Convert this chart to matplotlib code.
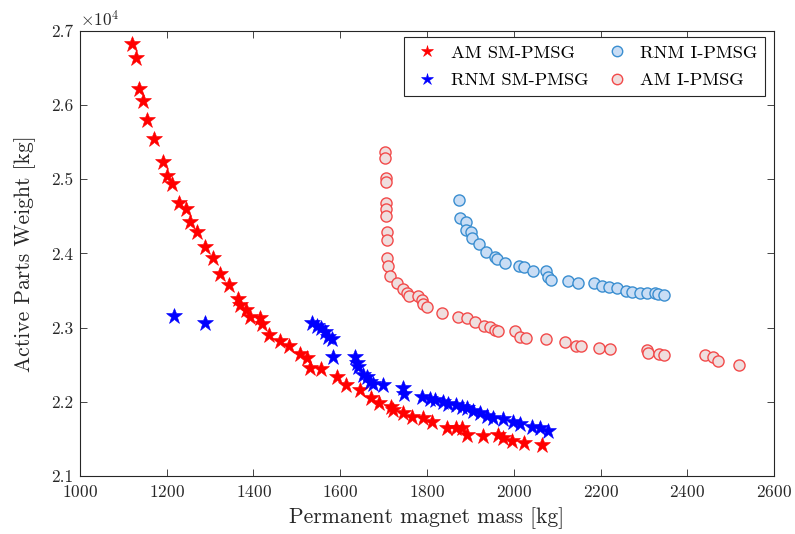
import matplotlib
matplotlib.use("Agg")
import matplotlib.pyplot as plt
import numpy as np

plt.rcParams['font.family'] = 'cmr10'
plt.rcParams['mathtext.fontset'] = 'cm'
plt.rcParams['axes.formatter.use_mathtext'] = True

# AM SM-PMSG (red stars)
am_sm_x = [1121, 1129, 1137, 1146, 1154, 1171, 1191, 1201, 1211, 1228, 1244, 1254, 1270, 1288,
           1307, 1323, 1344, 1364, 1369, 1383, 1392, 1415, 1420, 1435, 1461, 1483, 1507, 1524,
           1531, 1555, 1593, 1613, 1646, 1671, 1690, 1717, 1722, 1744, 1766, 1790, 1811, 1845,
           1867, 1880, 1893, 1930, 1964, 1976, 1997, 2024, 2064]
am_sm_y = [26817, 26636, 26210, 26049, 25797, 25541, 25227, 25038, 24930, 24683, 24594, 24423,
           24288, 24086, 23937, 23722, 23578, 23385, 23304, 23237, 23147, 23133, 23052, 22900,
           22823, 22756, 22644, 22590, 22455, 22438, 22338, 22222, 22159, 22047, 21985, 21934,
           21889, 21853, 21799, 21777, 21732, 21643, 21643, 21643, 21552, 21539, 21552, 21508,
           21476, 21449, 21418]

# RNM SM-PMSG (blue stars)
rnm_sm_x = [1217, 1288, 1534, 1546, 1555, 1565, 1572, 1580, 1584, 1634, 1638, 1642, 1652, 1661,
            1669, 1676, 1698, 1745, 1747, 1789, 1807, 1818, 1837, 1849, 1868, 1880, 1893, 1907,
            1922, 1938, 1953, 1976, 1999, 2014, 2041, 2061, 2080]
rnm_sm_y = [23156, 23057, 23057, 23021, 22990, 22944, 22877, 22846, 22607, 22607, 22527, 22465,
            22361, 22330, 22271, 22240, 22222, 22182, 22105, 22069, 22042, 22024, 22001, 21970,
            21957, 21934, 21912, 21880, 21845, 21808, 21777, 21772, 21732, 21701, 21664, 21643,
            21610]

# RNM I-PMSG (blue circles)
rnm_i_x = [1874, 1876, 1889, 1889, 1901, 1903, 1920, 1937, 1957, 1962, 1980, 2013, 2024, 2045,
           2074, 2080, 2087, 2126, 2147, 2185, 2203, 2220, 2237, 2259, 2273, 2291, 2308, 2326,
           2333, 2346]
rnm_i_y = [24719, 24480, 24418, 24315, 24292, 24211, 24122, 24014, 23955, 23920, 23866, 23833,
           23810, 23766, 23760, 23678, 23641, 23628, 23605, 23596, 23564, 23542, 23529, 23497,
           23475, 23470, 23470, 23462, 23453, 23439]

# AM I-PMSG (red circles)
am_i_x = [1703, 1703, 1705, 1705, 1705, 1705, 1705, 1707, 1708, 1708, 1711, 1715, 1732, 1745,
          1753, 1759, 1780, 1788, 1790, 1801, 1835, 1871, 1892, 1911, 1932, 1945, 1957, 1963,
          2003, 2014, 2028, 2074, 2117, 2144, 2154, 2197, 2223, 2308, 2309, 2336, 2346, 2441,
          2459, 2472, 2519]
am_i_y = [25370, 25281, 25011, 24957, 24682, 24597, 24503, 24284, 24180, 23941, 23834, 23699,
          23597, 23516, 23462, 23425, 23430, 23372, 23318, 23281, 23200, 23146, 23125, 23080,
          23021, 23012, 22967, 22958, 22950, 22877, 22855, 22842, 22810, 22752, 22752, 22725,
          22711, 22698, 22661, 22644, 22626, 22630, 22607, 22554, 22496]

fig = plt.figure(figsize=(7.95, 5.34), dpi=100)
ax = fig.add_axes([0.1006, 0.1086, 0.8730, 0.8339])

ax.plot(am_sm_x, am_sm_y, '*', color='#ff0000', markersize=12, markeredgewidth=0.4,
        label='AM SM-PMSG', linestyle='none')
ax.plot(rnm_sm_x, rnm_sm_y, '*', color='#0000ff', markersize=12, markeredgewidth=0.4,
        label='RNM SM-PMSG', linestyle='none')
ax.plot(rnm_i_x, rnm_i_y, 'o', markerfacecolor='#c9ddf5', markeredgecolor='#3a8ed0',
        markersize=8, markeredgewidth=1.0, label='RNM I-PMSG', linestyle='none')
ax.plot(am_i_x, am_i_y, 'o', markerfacecolor='#efdede', markeredgecolor='#f24a4a',
        markersize=8, markeredgewidth=1.0, label='AM I-PMSG', linestyle='none')

ax.set_xlim(1000, 2600)
ax.set_ylim(21000, 27000)
ax.set_xticks(np.arange(1000, 2601, 200))
ax.set_yticks(np.arange(21000, 27001, 1000))
ax.set_yticklabels(['2.1', '2.2', '2.3', '2.4', '2.5', '2.6', '2.7'])
ax.tick_params(direction='in', top=True, right=True, labelsize=12.5, length=5,
               width=0.6, color='#262626', labelcolor='#262626')
ax.tick_params(axis='x', pad=6)
ax.tick_params(axis='y', pad=5)
for s in ax.spines.values():
    s.set_linewidth(0.8)
    s.set_color('#262626')

ax.text(0.0, 1.003, r'$\times10^{4}$', transform=ax.transAxes, fontsize=12.5,
        va='bottom', ha='left', color='#262626')

ax.set_xlabel('Permanent magnet mass [kg]', fontsize=15.5, color='#262626', labelpad=5)
ax.set_ylabel('Active Parts Weight [kg]', fontsize=15.5, color='#262626', labelpad=11)

leg = ax.legend(loc='upper right', ncol=2, fontsize=13.3, frameon=True, fancybox=False,
                edgecolor='#262626', framealpha=1, borderpad=0.43, columnspacing=0.7,
                handlelength=1.66, handletextpad=0.43, labelspacing=0.62,
                borderaxespad=0, bbox_to_anchor=(0.987, 0.986))
leg.get_frame().set_linewidth(0.8)
# smaller legend symbols, as in the original
for h, ms in zip(leg.legend_handles, [9, 9, 7.5, 7.5]):
    h.set_markersize(ms)

fig.savefig('out.png', dpi=100)
